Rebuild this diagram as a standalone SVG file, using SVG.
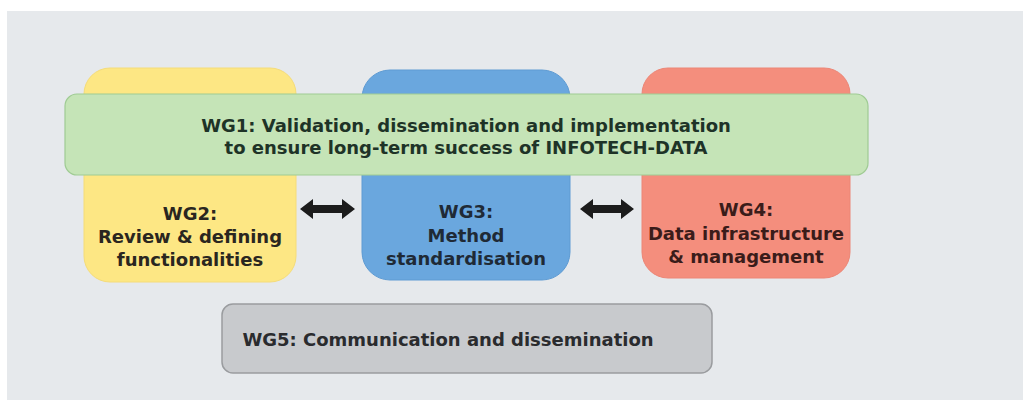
<svg xmlns="http://www.w3.org/2000/svg" width="1023" height="400" viewBox="0 0 1023 400">
<style>
text{font-family:"DejaVu Sans",Verdana,sans-serif;font-weight:bold;font-size:18px;text-anchor:middle}
.arrow{fill:#1c1c1c}
</style>
<rect x="0" y="0" width="1023" height="400" fill="#ffffff"/>
<rect x="7" y="11" width="1016" height="389" fill="#e6e9ec"/>
<g id="wg2">
<rect x="84" y="68" width="212" height="214" rx="26" fill="#fde784" stroke="#f5dc79" stroke-width="1"/>
<text x="190" y="220" fill="#2a2620">WG2:</text>
<text x="190" y="243" fill="#2a2620">Review &amp; defining</text>
<text x="190" y="266" fill="#2a2620">functionalities</text>
</g>
<g id="wg3">
<rect x="362" y="70" width="208" height="210" rx="28" fill="#6aa7de" stroke="#5e9bd3" stroke-width="1"/>
<text x="466" y="218" fill="#1f2a36">WG3:</text>
<text x="466" y="242" fill="#1f2a36">Method</text>
<text x="466" y="265" fill="#1f2a36">standardisation</text>
</g>
<g id="wg4">
<rect x="642" y="68" width="208" height="210" rx="26" fill="#f48e7d" stroke="#ec8676" stroke-width="1"/>
<text x="746" y="216" fill="#3a1c1a">WG4:</text>
<text x="746" y="240" fill="#3a1c1a">Data infrastructure</text>
<text x="746" y="263" fill="#3a1c1a">&amp; management</text>
</g>
<g id="wg1">
<rect x="65" y="94" width="803" height="81" rx="12" fill="#c5e4b7" stroke="#9fcb93" stroke-width="1.2"/>
<text x="466" y="132" fill="#1e3327">WG1: Validation, dissemination and implementation</text>
<text x="466" y="154" fill="#1e3327">to ensure long-term success of INFOTECH-DATA</text>
</g>
<g id="wg5">
<rect x="222" y="304" width="490" height="69" rx="11" fill="#c8cacd" stroke="#9a9c9f" stroke-width="1.5"/>
<text x="448" y="346" fill="#2a2b2e">WG5: Communication and dissemination</text>
</g>
<g id="connectors">
<path class="arrow" d="M300,209 L313,199 L313,205 L342,205 L342,199 L355,209 L342,219 L342,213 L313,213 L313,219 Z"/>
<path class="arrow" d="M580,209 L593,199 L593,205 L621,205 L621,199 L634,209 L621,219 L621,213 L593,213 L593,219 Z"/>
</g>
</svg>
